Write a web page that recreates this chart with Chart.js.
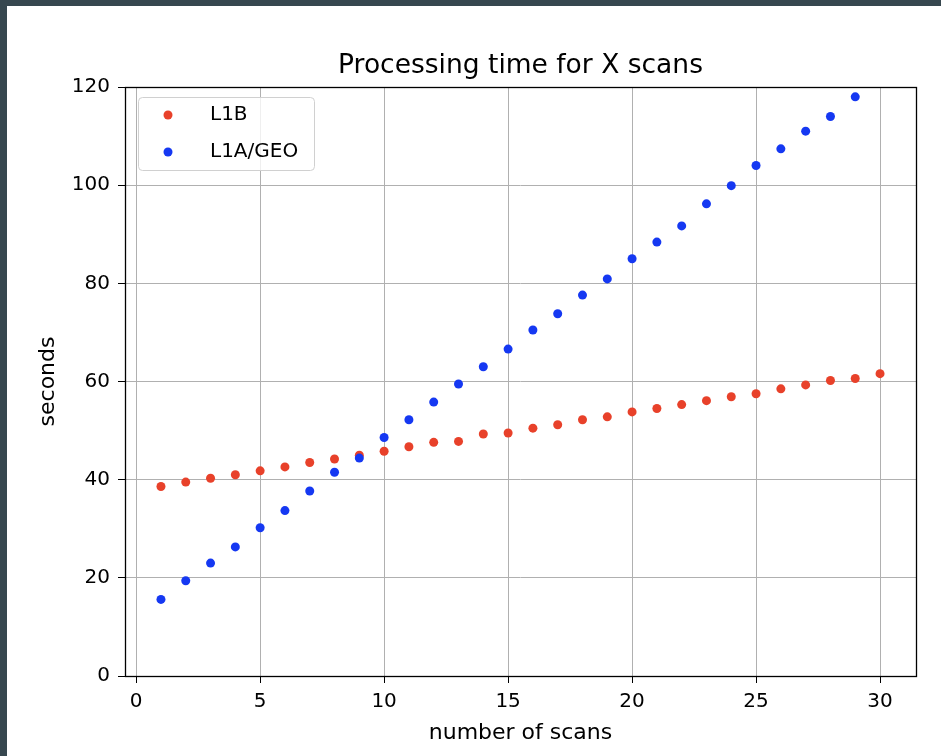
<!DOCTYPE html>
<html>
<head>
<meta charset="utf-8">
<script src="https://cdn.jsdelivr.net/npm/chart.js@4.4.1/dist/chart.umd.min.js"></script>
<style>
  html, body { margin: 0; padding: 0; background: #37474f; overflow: hidden; }
  #wrap { position: absolute; left: 7px; top: 6px; width: 934px; height: 750px; background: #fff; }
</style>
</head>
<body>
<div id="wrap"><canvas id="chart"></canvas></div>
<script>
// data
const scans = [1, 2, 3, 4, 5, 6, 7, 8, 9, 10, 11, 12, 13, 14, 15, 16, 17, 18, 19, 20, 21, 22, 23, 24, 25, 26, 27, 28, 29, 30];
const l1bSeconds = [38.6, 39.5, 40.3, 41.0, 41.8, 42.6, 43.5, 44.2, 45.0, 45.8, 46.7, 47.6, 47.8, 49.3, 49.5, 50.5, 51.2, 52.2, 52.8, 53.8, 54.5, 55.3, 56.1, 56.9, 57.5, 58.5, 59.3, 60.2, 60.6, 61.6];
const geoSeconds = [15.6, 19.4, 23.0, 26.3, 30.2, 33.7, 37.7, 41.5, 44.4, 48.6, 52.2, 55.8, 59.5, 63.0, 66.6, 70.5, 73.8, 77.6, 80.9, 85.0, 88.4, 91.7, 96.2, 99.9, 104.0, 107.4, 111.0, 114.0, 118.0];
const xTicks = [0, 5, 10, 15, 20, 25, 30];
const yTicks = [0, 20, 40, 60, 80, 100, 120];

const RED = '#e8412a';
const BLUE = '#1538f2';
const FONT = 'DejaVu Sans';

// axes frame + legend box drawn inside the plot, matplotlib style
const frameAndLegend = {
    id: 'frameAndLegend',
    afterDraw(chart) {
        const ctx = chart.ctx;
        const a = chart.chartArea;
        ctx.save();
        ctx.strokeStyle = '#000';
        ctx.lineWidth = 1.3;
        ctx.strokeRect(Math.round(a.left) + 0.5, Math.round(a.top) + 0.5, Math.round(a.right - a.left), Math.round(a.bottom - a.top));

        const bx = a.left + 13, by = a.top + 10, bw = 176, bh = 73;
        ctx.beginPath();
        ctx.roundRect(bx + 0.5, by + 0.5, bw, bh, 4);
        ctx.fillStyle = 'rgba(255,255,255,0.8)';
        ctx.fill();
        ctx.strokeStyle = '#d0d0d0';
        ctx.lineWidth = 1;
        ctx.stroke();

        const items = chart.data.datasets.map(d => [d.label, d.backgroundColor]);
        ctx.font = '20px "' + FONT + '"';
        ctx.textBaseline = 'middle';
        items.forEach((it, i) => {
            const cy = by + 18 + i * 37;
            ctx.beginPath();
            ctx.arc(bx + 30, cy, 4.5, 0, Math.PI * 2);
            ctx.fillStyle = it[1];
            ctx.fill();
            ctx.fillStyle = '#000';
            ctx.fillText(it[0], bx + 72, cy);
        });
        ctx.restore();
    }
};

new Chart(document.getElementById('chart'), {
    type: 'scatter',
    data: {
        datasets: [
            {
                label: 'L1B',
                data: l1bSeconds.map((v, i) => ({ x: scans[i], y: v })),
                backgroundColor: RED,
                borderWidth: 0,
                pointRadius: 4.5,
                pointHoverRadius: 4.5,
                order: 1
            },
            {
                label: 'L1A/GEO',
                data: geoSeconds.map((v, i) => ({ x: scans[i], y: v })),
                backgroundColor: BLUE,
                borderWidth: 0,
                pointRadius: 4.5,
                pointHoverRadius: 4.5,
                order: 0
            }
        ]
    },
    options: {
        responsive: true,
        maintainAspectRatio: false,
        animation: false,
        layout: { padding: { left: 0, right: 25, top: 0, bottom: 0 } },
        plugins: {
            legend: { display: false },
            tooltip: { enabled: false },
            title: {
                display: true,
                fullSize: false,
                text: 'Processing time for X scans',
                color: '#000',
                font: { family: FONT, size: 26.5, weight: 'normal' },
                padding: { top: 44, bottom: 5.2 }
            }
        },
        scales: {
            x: {
                type: 'linear',
                min: -0.45,
                max: 31.45,
                afterBuildTicks: s => { s.ticks = xTicks.map(v => ({ value: v })); },
                afterFit: s => { s.height = 80; },
                border: { display: false },
                grid: { color: '#b0b0b0', tickColor: '#000', tickLength: 7, lineWidth: 1 },
                ticks: { color: '#000', font: { family: FONT, size: 20 }, padding: 7, maxRotation: 0 },
                title: {
                    display: true,
                    text: 'number of scans',
                    color: '#000',
                    font: { family: FONT, size: 22 },
                    padding: { top: 0, bottom: 10 }
                }
            },
            y: {
                type: 'linear',
                min: 0,
                max: 120,
                afterBuildTicks: s => { s.ticks = yTicks.map(v => ({ value: v })); },
                afterFit: s => { s.width = 118; },
                border: { display: false },
                grid: { color: '#b0b0b0', tickColor: '#000', tickLength: 7, lineWidth: 1 },
                ticks: { color: '#000', font: { family: FONT, size: 20 }, padding: 8 },
                title: {
                    display: true,
                    text: 'seconds',
                    color: '#000',
                    font: { family: FONT, size: 22 },
                    padding: { top: 28, bottom: 0 }
                }
            }
        }
    },
    plugins: [frameAndLegend]
});
</script>
</body>
</html>
